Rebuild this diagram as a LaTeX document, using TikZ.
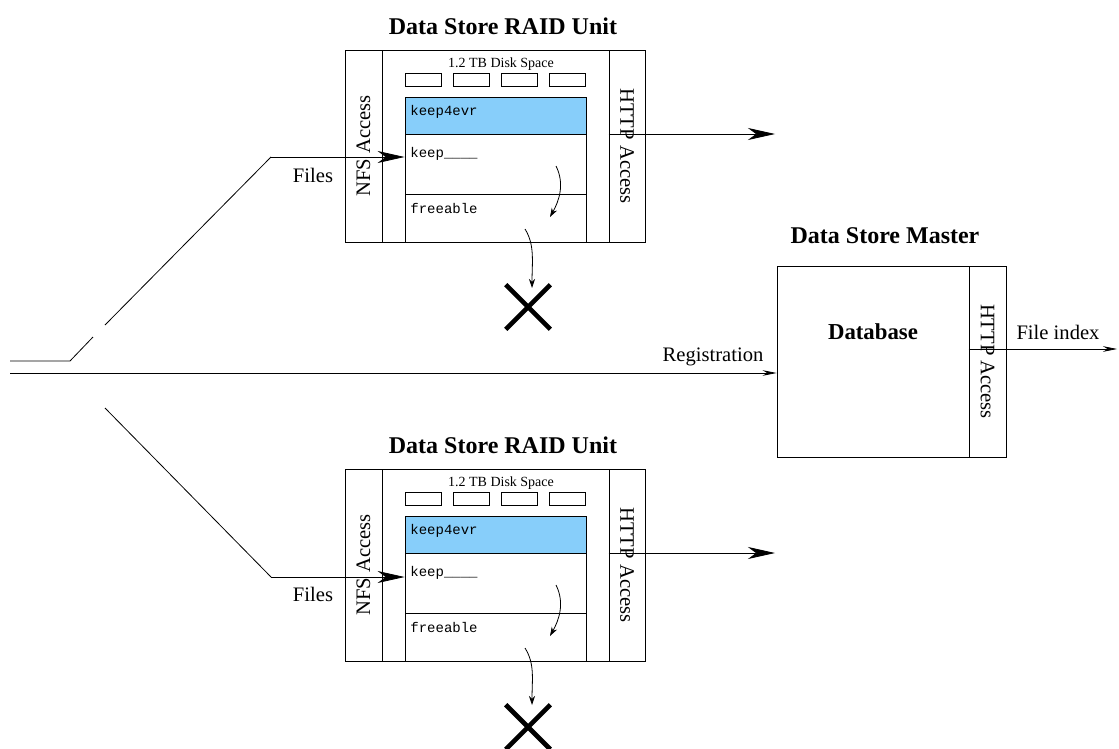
\documentclass[tikz,border=0pt]{standalone}
\usepackage{fontspec}
\setmainfont{Liberation Serif}
\setmonofont{Liberation Mono}
\usetikzlibrary{arrows.meta,shapes.misc}
\definecolor{keepblue}{RGB}{135,206,250}
\tikzstyle{box}=[draw, rectangle, inner sep=0pt]
\tikzstyle{disk}=[box, minimum width=18pt, minimum height=6.5pt]
\tikzstyle{keepfill}=[fill=keepblue]
\tikzstyle{lbl}=[font=\fontsize{10.3}{12}\selectfont, inner sep=0pt]
\tikzstyle{title}=[font=\fontsize{12}{14}\selectfont\bfseries, inner sep=0pt]
\tikzstyle{tt}=[font=\fontsize{7}{8}\ttfamily, anchor=west, inner sep=0pt]
\tikzstyle{small}=[font=\fontsize{7}{8}\selectfont, inner sep=0pt]
\tikzstyle{bigarrow}=[draw=black, -{Stealth[length=13.5pt, width=6pt, inset=4pt]}]
\tikzstyle{arrow}=[draw=black, -{Stealth[length=7pt, width=2.8pt]}]
\tikzstyle{curl}=[draw=black, -{Stealth[length=4.5pt, width=3pt]}]
\tikzstyle{gone}=[draw, cross out, line width=2.3pt, minimum size=20pt, inner sep=0pt]

\begin{document}
\begin{tikzpicture}[x=0.5pt, y=-0.5pt]
		   \useasboundingbox (0,0) rectangle (1119,749);
		   % upper RAID unit
		   \begin{scope}
			   \node (utitle) at (503,26)[title] {Data Store RAID Unit};
			   \node (unfs) at (363.5,146)[box, minimum width=18.5pt, minimum height=96pt] {};
			   \node (ucore) at (495.5,146)[box, minimum width=113.5pt, minimum height=96pt] {};
			   \node (uhttp) at (627,146)[box, minimum width=18pt, minimum height=96pt] {};
			   \node (unfsl) at (unfs)[lbl, rotate=90] {NFS Access};
			   \node (uhttpl) at (uhttp)[lbl, rotate=-90] {HTTP Access};

			   \node (udiskl) at (501,64)[small] {1.2 TB Disk Space};
			   \node (ud1) at (423,79.5)[disk] {};
			   \node (ud2) at (471,79.5)[disk] {};
			   \node (ud3) at (519,79.5)[disk] {};
			   \node (ud4) at (567.5,79.5)[disk] {};

			   \node (ukeep4) at (495.5,115.5)[box, keepfill, minimum width=90.5pt, minimum height=18.5pt] {};
			   \node (ukeep) at (495.5,164)[box, minimum width=90.5pt, minimum height=30pt] {};
			   \node (ufree) at (495.5,218)[box, minimum width=90.5pt, minimum height=24pt] {};
			   \node (ukeep4l) at (410,112)[tt] {keep4evr};
			   \node (ukeepl) at (410,154)[tt] {keep\_\_\_\_};
			   \node (ufreel) at (410,208)[tt] {freeable};

			   \node (ufiles) at (313,175)[lbl] {Files};
			   \node (ux) at (528,307)[gone] {};

			   \coordinate (ubend) at (271,157);
			   \coordinate (uweb) at (775,134);
			   \coordinate (uc1) at (556,166);
			   \coordinate (uc2) at (550,217);
			   \coordinate (uc3) at (525,229);
			   \coordinate (uc4) at (532,288);
		   \end{scope}
		   % lower RAID unit
		   \begin{scope}
			   \node (ltitle) at (503,445)[title] {Data Store RAID Unit};
			   \node (lnfs) at (363.5,565)[box, minimum width=18.5pt, minimum height=96pt] {};
			   \node (lcore) at (495.5,565)[box, minimum width=113.5pt, minimum height=96pt] {};
			   \node (lhttp) at (627,565)[box, minimum width=18pt, minimum height=96pt] {};
			   \node (lnfsl) at (lnfs)[lbl, rotate=90] {NFS Access};
			   \node (lhttpl) at (lhttp)[lbl, rotate=-90] {HTTP Access};

			   \node (ldiskl) at (501,483)[small] {1.2 TB Disk Space};
			   \node (ld1) at (423,498.5)[disk] {};
			   \node (ld2) at (471,498.5)[disk] {};
			   \node (ld3) at (519,498.5)[disk] {};
			   \node (ld4) at (567.5,498.5)[disk] {};

			   \node (lkeep4) at (495.5,534.5)[box, keepfill, minimum width=90.5pt, minimum height=18.5pt] {};
			   \node (lkeep) at (495.5,583)[box, minimum width=90.5pt, minimum height=30pt] {};
			   \node (lfree) at (495.5,637)[box, minimum width=90.5pt, minimum height=24pt] {};
			   \node (lkeep4l) at (410,531)[tt] {keep4evr};
			   \node (lkeepl) at (410,573)[tt] {keep\_\_\_\_};
			   \node (lfreel) at (410,627)[tt] {freeable};

			   \node (lfiles) at (313,594)[lbl] {Files};
			   \node (lx) at (528,727)[gone] {};

			   \coordinate (lbend) at (271,577);
			   \coordinate (lweb) at (775,553);
			   \coordinate (lc1) at (556,585);
			   \coordinate (lc2) at (550,636);
			   \coordinate (lc3) at (525,648);
			   \coordinate (lc4) at (532,705);
		   \end{scope}
		   % master
		   \begin{scope}
			   \node (mtitle) at (885,236)[title] {Data Store Master};
			   \node (mdb) at (873,361.5)[box, minimum width=96pt, minimum height=95.5pt] {};
			   \node (mhttp) at (987.5,361.5)[box, minimum width=18.5pt, minimum height=95.5pt] {};
			   \node (mdbl) at (873,332)[lbl, font=\fontsize{11.4}{13}\selectfont\bfseries] {Database};
			   \node (mhttpl) at (mhttp)[lbl, rotate=-90] {HTTP Access};
			   \node (mreg) at (713,357)[lbl] {Registration};
			   \node (midx) at (1058,332)[lbl] {File index};

			   \coordinate (src) at (10,361);
			   \coordinate (srcb) at (70,361);
			   \coordinate (gapa) at (93,337);
			   \coordinate (gapb) at (105,325);
			   \coordinate (lowstart) at (105,408);
			   \coordinate (reg) at (10,373);
			   \coordinate (idx) at (1117,349);
		   \end{scope}
		   % connectors
		   \begin{scope}
			   \draw (src) -- (srcb) -- (gapa);
			   \draw (gapb) -- (ubend);
			   \path [bigarrow] (ubend) -- (ubend -| ukeep.west);
			   \draw (lowstart) -- (lbend);
			   \path [bigarrow] (lbend) -- (lbend -| lkeep.west);
			   \path [arrow] (reg) -- (reg -| mdb.west);
			   \path [arrow] (idx -| mhttp.west) -- (idx);

			   \path [bigarrow] (uweb -| uhttp.west) -- (uweb);
			   \path [bigarrow] (lweb -| lhttp.west) -- (lweb);

			   \path [curl] (uc1) .. controls +(9,18) and +(9,-16) .. (uc2);
			   \path [curl] (uc3) .. controls +(10,16) and +(0,-26) .. (uc4);
			   \path [curl] (lc1) .. controls +(9,18) and +(9,-16) .. (lc2);
			   \path [curl] (lc3) .. controls +(10,16) and +(0,-26) .. (lc4);
		   \end{scope}
\end{tikzpicture}
\end{document}
